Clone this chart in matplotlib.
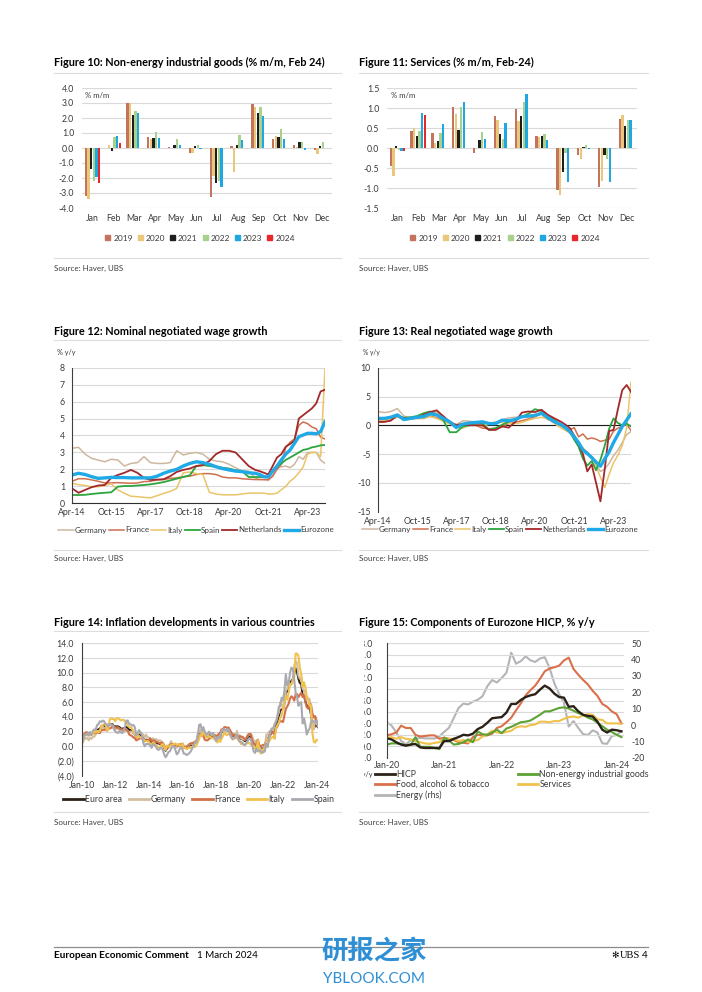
import numpy as np
import matplotlib
matplotlib.use("Agg")
import matplotlib.pyplot as plt
from matplotlib.lines import Line2D
from matplotlib.patches import Patch, Rectangle

plt.rcParams['font.family'] = ['Lato', 'DejaVu Sans']
plt.rcParams['axes.unicode_minus'] = False

# ---------------- DATA ----------------
months = ['Jan', 'Feb', 'Mar', 'Apr', 'May', 'Jun', 'Jul', 'Aug', 'Sep', 'Oct', 'Nov', 'Dec']
bar_years = ['2019', '2020', '2021', '2022', '2023', '2024']
nan = np.nan

# Figure 10: Non-energy industrial goods, % m/m
neig_2019 = [-3.23, 0.03, 2.98, 0.76, 0.05, -0.32, -3.29, 0.12, 2.96, 0.63, 0.19, -0.10]
neig_2020 = [-3.38, 0.19, 2.98, 0.58, 0.03, -0.36, -1.86, -1.57, 2.76, 0.78, 0.05, -0.39]
neig_2021 = [-1.41, -0.21, 2.19, 0.69, 0.21, 0.12, -2.35, 0.21, 2.35, 0.74, 0.39, 0.12]
neig_2022 = [-2.17, 0.71, 2.48, 1.07, 0.60, 0.19, -2.19, 0.85, 2.72, 1.24, 0.43, 0.41]
neig_2023 = [-1.90, 0.78, 2.35, 0.69, 0.21, -0.05, -2.63, 0.56, 2.13, 0.63, -0.14, 0.00]
neig_2024 = [-2.35, 0.36, nan, nan, nan, nan, nan, nan, nan, nan, nan, nan]

# Figure 11: Services, % m/m
svc_2019 = [-0.44, 0.43, 0.37, 1.02, -0.13, 0.80, 0.98, 0.29, -1.05, -0.18, -0.98, 0.73]
svc_2020 = [-0.71, 0.50, 0.12, 0.84, -0.01, 0.71, 0.68, 0.28, -1.18, -0.28, -0.82, 0.83]
svc_2021 = [0.04, 0.30, 0.17, 0.45, 0.19, 0.35, 0.79, 0.31, -0.60, 0.02, -0.18, 0.56]
svc_2022 = [-0.04, 0.42, 0.37, 1.03, 0.39, 0.23, 1.16, 0.34, -0.13, 0.08, -0.27, 0.70]
svc_2023 = [-0.08, 0.87, 0.61, 1.16, 0.23, 0.62, 1.35, 0.21, -0.85, -0.02, -0.85, 0.70]
svc_2024 = [-0.08, 0.82, nan, nan, nan, nan, nan, nan, nan, nan, nan, nan]

# Figures 12/13: negotiated wages, months since Apr-14
wage_months = [0, 3, 6, 9, 12, 15, 18, 21, 24, 27, 30, 33, 36, 39, 42, 45, 48, 51, 54, 57,
               60, 63, 66, 69, 72, 75, 78, 81, 84, 86, 88, 90, 92, 94, 96, 98, 100, 102,
               104, 106, 108, 110, 112, 114, 116]
wage_tick_pos = [0, 18, 36, 54, 72, 90, 108]
wage_tick_labels = ['Apr-14', 'Oct-15', 'Apr-17', 'Oct-18', 'Apr-20', 'Oct-21', 'Apr-23']
wage_names = ['Germany', 'France', 'Italy', 'Spain', 'Netherlands', 'Eurozone']

nom_de = [3.25, 3.3, 2.9, 2.65, 2.55, 2.45, 2.6, 2.55, 2.2, 2.35, 2.4, 2.75, 2.4, 2.35, 2.35,
          2.4, 3.1, 2.85, 2.95, 3.0, 2.9, 2.6, 2.5, 2.45, 2.3, 2.1, 1.9, 1.9, 1.5,
          1.4, 1.4, 1.35, 1.6, 2.1, 2.15, 2.2, 2.1, 2.3, 2.75, 2.6, 3.0, 3.0, 3.0, 2.55, 2.35]
nom_fr = [1.3, 1.45, 1.45, 1.38, 1.3, 1.2, 1.2, 1.22, 1.2, 1.18, 1.2, 1.28, 1.3, 1.38, 1.4,
          1.47, 1.5, 1.57, 1.6, 1.7, 1.75, 1.75, 1.7, 1.55, 1.5, 1.5, 1.45, 1.42, 1.4,
          1.4, 1.4, 1.4, 1.6, 2.0, 2.3, 3.3, 3.6, 3.8, 4.6, 4.8, 4.7, 4.5, 4.4, 3.9, 3.8]
nom_it = [1.18, 1.1, 1.05, 0.98, 0.98, 1.05, 1.15, 0.8, 0.59, 0.42, 0.39, 0.35, 0.32, 0.45, 0.58,
          0.7, 0.88, 1.8, 1.85, 1.75, 1.7, 0.65, 0.55, 0.5, 0.5, 0.5, 0.55, 0.6, 0.6,
          0.6, 0.6, 0.55, 0.55, 0.6, 0.8, 1.0, 1.3, 1.5, 1.8, 2.15, 2.9, 3.0, 3.0, 2.75, 7.95]
nom_es = [0.49, 0.49, 0.5, 0.55, 0.59, 0.62, 0.65, 0.98, 1.02, 1.02, 1.05, 1.08, 1.12, 1.18, 1.25,
          1.35, 1.45, 1.55, 1.65, 2.2, 2.25, 2.2, 2.15, 2.1, 2.05, 1.95, 1.9, 1.55, 1.55,
          1.55, 1.55, 1.55, 1.9, 2.16, 2.35, 2.56, 2.7, 2.85, 3.0, 3.15, 3.2, 3.3, 3.35, 3.42, 3.44]
nom_nl = [0.88, 0.62, 0.79, 0.95, 1.05, 1.08, 1.5, 1.67, 1.8, 1.97, 1.8, 1.5, 1.38, 1.4, 1.42,
          1.6, 1.85, 1.97, 2.05, 2.2, 2.25, 2.5, 2.9, 3.1, 3.1, 3.0, 2.6, 2.2, 1.97,
          1.9, 1.8, 1.7, 2.2, 2.7, 2.9, 3.34, 3.5, 3.7, 5.0, 5.2, 5.4, 5.6, 5.9, 6.6, 6.7]
nom_ez = [1.67, 1.77, 1.7, 1.57, 1.47, 1.5, 1.53, 1.52, 1.52, 1.5, 1.5, 1.5, 1.5, 1.6, 1.77,
          1.9, 2.0, 2.2, 2.35, 2.45, 2.4, 2.3, 2.16, 2.05, 1.97, 1.9, 1.87, 1.8, 1.77,
          1.7, 1.57, 1.55, 1.9, 2.2, 2.56, 2.9, 3.15, 3.54, 3.93, 4.03, 4.13, 4.13, 4.1, 4.23, 4.82]

real_de = [2.4, 2.2, 2.4, 2.9, 1.6, 1.3, 1.3, 1.7, 2.2, 2.3, 1.4, 0.6, 0.1, 0.8, 0.7,
           0.6, 0.6, 0.4, 0.5, 0.9, 1.3, 1.4, 1.5, 1.6, 1.9, 2.1, 1.2, 0.5, -0.2,
           -0.8, -1.3, -2.1, -3.2, -4.0, -4.6, -5.6, -6.9, -8.0, -7.6, -6.6, -5.3, -4.3, -3.0, -1.6, -1.1]
real_fr = [0.6, 0.6, 0.9, 1.5, 1.2, 1.2, 1.2, 1.2, 1.6, 1.3, 0.9, 0.4, 0.1, 0.3, 0.3,
           0.0, -0.5, -0.6, -0.5, -0.2, 0.3, 0.5, 0.8, 1.1, 1.5, 2.0, 1.0, 0.6, 0.2,
           -0.4, -0.8, -0.4, -2.0, -1.5, -2.4, -2.2, -2.4, -2.8, -2.6, -2.4, -1.0, -0.5, -0.2, 0.2, -0.9]
real_it = [0.8, 0.9, 1.0, 1.5, 0.9, 1.1, 1.2, 1.2, 1.5, 1.2, 0.7, 0.2, -0.1, -0.5, 0.0,
           0.1, -0.2, 0.2, 0.6, 0.5, 0.3, 0.3, 0.5, 0.9, 1.2, 1.4, 1.1, 0.3, -0.5,
           -0.9, -1.3, -2.2, -3.2, -4.0, -4.7, -5.4, -7.2, -9.0, -10.8, -8.5, -6.5, -5.2, -3.5, -0.5, 7.5]
real_es = [1.0, 1.2, 1.3, 1.6, 1.3, 1.4, 1.6, 2.1, 2.4, 1.8, 0.9, -1.2, -1.2, -0.2, 0.0,
           0.3, 0.3, -0.8, -0.5, 0.1, 0.6, 1.0, 1.5, 2.0, 2.8, 2.5, 1.6, 0.9, 0.0,
           -0.5, -1.1, -2.5, -3.7, -5.8, -7.0, -6.2, -7.8, -6.0, -3.5, -0.6, 1.2, 0.4, 0.0, 0.3, -0.2]
real_nl = [0.6, 0.6, 0.8, 1.8, 1.2, 1.2, 1.3, 1.8, 2.3, 2.6, 1.6, 0.6, 0.0, 0.2, 0.0,
           0.0, 0.0, -0.8, -0.8, -0.2, -0.4, 0.6, 2.2, 2.4, 2.3, 2.7, 1.8, 1.2, 0.6,
           0.1, -0.5, -1.8, -3.2, -5.0, -8.0, -6.8, -10.0, -13.2, -7.5, -1.0, -0.8, 2.8, 6.1, 7.0, 5.8]
real_ez = [1.2, 1.2, 1.4, 1.8, 1.0, 1.2, 1.4, 1.5, 2.0, 1.8, 1.2, 0.6, -0.4, 0.2, 0.4,
           0.5, 0.6, 0.3, 0.3, 0.9, 0.8, 1.0, 1.5, 1.6, 1.7, 2.1, 1.3, 0.6, 0.1,
           -0.4, -1.1, -2.0, -3.0, -4.3, -4.9, -5.6, -6.4, -7.1, -5.8, -4.6, -3.0, -1.6, -0.2, 0.9, 2.0]

# Figure 14: HICP inflation, % y/y, monthly Jan-10 .. Feb-24
infl_tick_labels = ['Jan-10', 'Jan-12', 'Jan-14', 'Jan-16', 'Jan-18', 'Jan-20', 'Jan-22', 'Jan-24']
infl_names = ['Euro area', 'Germany', 'France', 'Italy', 'Spain']
hicp_ea = [1.0, 0.9, 1.6, 1.6, 1.7, 1.5, 1.7, 1.6, 1.9, 1.9, 1.9, 2.2,
           2.3, 2.4, 2.7, 2.8, 2.7, 2.7, 2.6, 2.6, 3.0, 3.0, 3.0, 2.7,
           2.7, 2.7, 2.7, 2.6, 2.4, 2.4, 2.4, 2.6, 2.6, 2.5, 2.2, 2.2,
           2.0, 1.8, 1.7, 1.2, 1.4, 1.6, 1.6, 1.3, 1.1, 0.7, 0.9, 0.8,
           0.8, 0.7, 0.5, 0.7, 0.5, 0.5, 0.4, 0.4, 0.3, 0.4, 0.3, -0.2,
           -0.6, -0.3, -0.1, 0.0, 0.3, 0.2, 0.2, 0.1, -0.1, 0.1, 0.1, 0.2,
           0.3, -0.2, 0.0, -0.2, -0.1, 0.1, 0.2, 0.2, 0.4, 0.5, 0.6, 1.1,
           1.7, 2.0, 1.5, 1.9, 1.4, 1.3, 1.3, 1.5, 1.5, 1.4, 1.5, 1.3,
           1.3, 1.1, 1.4, 1.2, 2.0, 2.0, 2.2, 2.1, 2.1, 2.3, 1.9, 1.5,
           1.4, 1.5, 1.4, 1.7, 1.2, 1.3, 1.0, 1.0, 0.8, 0.7, 1.0, 1.3,
           1.4, 1.2, 0.7, 0.3, 0.1, 0.3, 0.4, -0.2, -0.3, -0.3, -0.3, -0.3,
           0.9, 0.9, 1.3, 1.6, 2.0, 1.9, 2.2, 3.0, 3.4, 4.1, 4.9, 5.0,
           5.1, 5.9, 7.4, 7.4, 8.1, 8.6, 8.9, 9.1, 9.9, 10.6, 10.1, 9.2,
           8.6, 8.5, 6.9, 7.0, 6.1, 5.5, 5.3, 5.2, 4.3, 2.9, 2.4, 2.9,
           2.8, 2.6]
hicp_de = [0.8, 0.5, 1.2, 1.0, 1.2, 0.8, 1.2, 1.0, 1.3, 1.3, 1.6, 1.9,
           2.0, 2.2, 2.3, 2.7, 2.4, 2.4, 2.6, 2.5, 2.9, 2.9, 2.8, 2.3,
           2.3, 2.5, 2.3, 2.2, 2.2, 2.0, 1.9, 2.2, 2.1, 2.1, 1.9, 2.0,
           1.9, 1.8, 1.8, 1.1, 1.6, 1.9, 1.9, 1.6, 1.6, 1.2, 1.6, 1.2,
           1.2, 1.0, 0.9, 1.1, 0.6, 1.0, 0.8, 0.8, 0.8, 0.7, 0.5, 0.1,
           -0.5, 0.0, 0.1, 0.3, 0.7, 0.1, 0.1, 0.1, -0.2, 0.2, 0.3, 0.2,
           0.4, -0.2, 0.1, -0.3, 0.0, 0.2, 0.4, 0.3, 0.5, 0.7, 0.7, 1.7,
           1.9, 2.2, 1.5, 2.0, 1.4, 1.5, 1.5, 1.8, 1.8, 1.5, 1.8, 1.6,
           1.4, 1.2, 1.5, 1.4, 2.2, 2.1, 2.1, 1.9, 2.2, 2.6, 2.2, 1.7,
           1.7, 1.7, 1.4, 2.1, 1.3, 1.5, 1.1, 1.0, 0.9, 0.9, 1.2, 1.5,
           1.6, 1.7, 1.3, 0.8, 0.5, 0.8, 0.0, -0.1, -0.4, -0.5, -0.7, -0.7,
           1.6, 1.6, 2.0, 2.1, 2.4, 2.1, 3.1, 3.4, 4.1, 4.6, 6.0, 5.7,
           5.1, 5.5, 7.6, 7.8, 8.7, 8.2, 8.5, 8.8, 10.9, 11.6, 11.3, 9.6,
           9.2, 9.3, 7.8, 7.6, 6.3, 6.8, 6.5, 6.4, 4.3, 3.0, 2.3, 3.8,
           3.1, 2.7]
hicp_fr = [1.2, 1.4, 1.7, 1.9, 1.9, 1.7, 1.9, 1.6, 1.8, 1.8, 1.8, 2.0,
           1.8, 1.8, 2.2, 2.2, 2.2, 2.3, 2.1, 2.4, 2.4, 2.5, 2.7, 2.7,
           2.6, 2.5, 2.6, 2.4, 2.3, 2.3, 2.2, 2.4, 2.2, 2.1, 1.6, 1.5,
           1.4, 1.2, 1.1, 0.8, 0.9, 1.0, 1.2, 1.0, 1.0, 0.7, 0.8, 0.8,
           0.8, 1.1, 0.7, 0.8, 0.8, 0.6, 0.6, 0.5, 0.4, 0.5, 0.4, 0.1,
           -0.4, -0.3, 0.0, 0.1, 0.3, 0.3, 0.2, 0.1, 0.1, 0.1, 0.1, 0.3,
           0.3, -0.1, -0.1, -0.1, 0.1, 0.3, 0.4, 0.4, 0.5, 0.5, 0.7, 0.8,
           1.6, 1.4, 1.4, 1.4, 0.9, 0.8, 0.8, 1.0, 1.1, 1.2, 1.2, 1.2,
           1.5, 1.3, 1.7, 1.8, 2.3, 2.3, 2.6, 2.6, 2.5, 2.5, 2.2, 1.9,
           1.4, 1.6, 1.3, 1.5, 1.1, 1.4, 1.3, 1.3, 1.1, 0.9, 1.2, 1.6,
           1.7, 1.6, 0.8, 0.4, 0.2, 0.2, 0.9, 0.2, 0.0, 0.1, 0.2, 0.0,
           0.8, 0.8, 1.4, 1.6, 1.8, 1.9, 1.5, 2.4, 2.7, 3.2, 3.4, 3.4,
           3.3, 4.2, 5.1, 5.4, 5.8, 6.5, 6.8, 6.6, 6.2, 7.1, 7.1, 6.7,
           7.0, 7.3, 6.7, 6.9, 6.0, 5.3, 5.1, 5.7, 5.7, 4.5, 3.9, 4.1,
           3.4, 3.1]
hicp_it = [1.3, 1.1, 1.4, 1.6, 1.6, 1.5, 1.8, 1.8, 1.6, 2.0, 1.9, 2.1,
           1.9, 2.1, 2.8, 2.9, 3.0, 3.0, 2.1, 2.3, 3.6, 3.8, 3.7, 3.7,
           3.4, 3.8, 3.8, 3.7, 3.5, 3.6, 3.6, 3.3, 3.4, 2.8, 2.6, 2.6,
           2.4, 2.0, 1.8, 1.3, 1.3, 1.4, 1.2, 1.2, 0.9, 0.8, 0.7, 0.7,
           0.6, 0.4, 0.3, 0.5, 0.4, 0.2, 0.0, -0.2, -0.1, 0.2, 0.3, -0.1,
           -0.5, 0.1, 0.0, -0.1, 0.2, 0.2, 0.3, 0.4, 0.2, 0.3, 0.1, 0.1,
           0.4, -0.2, -0.2, -0.4, -0.3, -0.2, -0.2, -0.1, 0.1, -0.1, 0.1, 0.5,
           1.0, 1.6, 1.4, 2.0, 1.6, 1.2, 1.2, 1.4, 1.3, 1.1, 1.1, 1.0,
           1.2, 0.5, 0.9, 0.6, 1.0, 1.4, 1.9, 1.6, 1.5, 1.7, 1.6, 1.2,
           0.9, 1.1, 1.1, 1.1, 0.9, 0.8, 0.3, 0.5, 0.2, 0.2, 0.4, 0.5,
           0.4, 0.2, 0.1, 0.1, -0.3, -0.4, 0.8, -0.5, -1.0, -0.6, -0.3, -0.3,
           0.7, 1.0, 0.6, 1.0, 1.2, 1.3, 1.0, 2.5, 2.9, 3.2, 3.9, 4.2,
           5.1, 6.2, 6.8, 6.3, 7.3, 8.5, 8.4, 9.1, 9.4, 12.6, 12.6, 12.3,
           10.7, 9.8, 8.1, 8.7, 8.0, 6.7, 6.3, 5.5, 5.6, 1.8, 0.6, 0.5,
           0.9, 0.8]
hicp_es = [1.1, 0.9, 1.5, 1.6, 1.8, 1.5, 1.9, 1.6, 2.1, 2.3, 2.2, 2.9,
           3.0, 3.4, 3.3, 3.5, 3.4, 3.0, 3.0, 2.7, 3.0, 3.0, 2.9, 2.4,
           2.0, 1.9, 1.8, 2.0, 1.9, 1.8, 2.2, 2.7, 3.5, 3.5, 3.0, 3.0,
           2.8, 2.9, 2.6, 1.5, 1.8, 2.2, 1.9, 1.6, 0.5, 0.0, 0.3, 0.3,
           0.3, 0.1, -0.2, 0.3, 0.2, 0.0, -0.4, -0.5, -0.3, -0.2, -0.5, -1.1,
           -1.5, -1.2, -0.8, -0.7, -0.3, 0.0, 0.0, -0.5, -1.1, -0.9, -0.4, -0.1,
           -0.4, -1.0, -1.0, -1.2, -1.1, -0.9, -0.7, -0.3, 0.0, 0.5, 0.5, 1.4,
           2.9, 3.0, 2.1, 2.6, 2.0, 1.6, 1.7, 2.0, 1.8, 1.7, 1.8, 1.2,
           0.7, 1.2, 1.3, 1.1, 2.1, 2.3, 2.3, 2.2, 2.3, 2.3, 1.7, 1.2,
           1.0, 1.1, 1.3, 1.6, 0.9, 0.6, 0.6, 0.4, 0.2, 0.2, 0.5, 0.8,
           1.1, 0.9, 0.1, -0.7, -0.9, -0.3, -0.7, -0.6, -0.6, -0.9, -0.8, -0.6,
           0.4, -0.1, 1.2, 2.0, 2.4, 2.5, 2.9, 3.3, 4.0, 5.4, 5.5, 6.6,
           6.2, 7.6, 9.8, 8.3, 8.5, 10.0, 10.7, 10.5, 9.0, 7.3, 6.7, 5.5,
           5.9, 6.0, 3.1, 3.8, 2.9, 1.6, 2.1, 2.4, 3.3, 3.5, 3.3, 3.3,
           3.5, 2.9]

# Figure 15: Eurozone HICP components, % y/y, monthly Jan-20 .. Feb-24
comp_tick_labels = ['Jan-20', 'Jan-21', 'Jan-22', 'Jan-23', 'Jan-24']
comp_hicp = hicp_ea[120:]
comp_neig = [0.3, 0.5, 0.5, 0.4, 0.2, 0.2, 1.6, -0.1, -0.1, -0.1, -0.3, -0.5,
             1.5, 1.0, 0.3, 0.4, 0.7, 1.2, 0.7, 2.6, 2.1, 2.0, 2.4, 2.9,
             2.3, 3.1, 3.4, 3.8, 4.2, 4.3, 4.5, 5.0, 5.5, 6.1, 6.1, 6.4,
             6.7, 6.8, 6.6, 6.2, 5.8, 5.5, 5.0, 4.7, 4.1, 3.5, 2.9, 2.5,
             2.0, 1.6]
comp_food = [1.9, 2.1, 2.4, 3.6, 3.2, 3.2, 2.0, 1.7, 1.8, 1.9, 1.9, 1.3,
             1.5, 1.3, 1.1, 0.7, 0.6, 0.5, 1.6, 2.0, 1.9, 1.9, 2.2, 3.2,
             3.5, 4.2, 5.0, 6.3, 7.5, 8.9, 9.8, 10.6, 11.8, 13.1, 13.6, 13.8,
             14.1, 15.0, 15.5, 13.5, 12.5, 11.6, 10.8, 9.7, 8.8, 7.4, 6.9, 6.1,
             5.6, 4.0]
comp_serv = [1.5, 1.6, 1.3, 1.6, 1.3, 1.2, 0.9, 0.7, 0.5, 0.4, 0.6, 0.7,
             1.4, 1.3, 1.3, 0.9, 1.1, 0.7, 0.9, 1.1, 1.7, 2.1, 2.7, 2.4,
             2.3, 2.5, 2.7, 3.3, 3.5, 3.4, 3.7, 3.8, 4.3, 4.3, 4.2, 4.4,
             4.4, 4.8, 5.1, 5.2, 5.0, 5.4, 5.6, 5.5, 4.7, 4.6, 4.0, 4.0,
             4.0, 3.9]
comp_energy = [1.9, -0.3, -4.5, -9.7, -11.9, -9.3, -8.4, -7.8, -8.2, -8.2, -8.3, -6.9,
               -4.2, -1.7, 4.3, 10.4, 13.1, 12.6, 14.3, 15.4, 17.6, 23.7, 27.5, 26.0,
               28.8, 32.0, 44.3, 37.5, 39.1, 42.0, 39.6, 38.6, 40.7, 41.5, 34.9, 25.5,
               18.9, 13.7, -0.9, 2.4, -1.8, -5.6, -6.1, -3.3, -4.6, -11.2, -11.5, -6.7,
               -6.1, -3.7]

# ---------------- STYLE ----------------
bar_colors = ['#C4735D', '#EBC77B', '#1E1E1E', '#A9D18E', '#1EA7E1', '#E8262B']
wage_colors = ['#CDB89F', '#CF6F4E', '#EBC46A', '#2CA53E', '#A3282A', '#1FA9E6']
wage_lw = [1.1, 1.1, 1.1, 1.3, 1.3, 2.4]
infl_colors = ['#2B2118', '#D3BF9F', '#D2704A', '#F1C14E', '#A9A9B1']
TICK = 6.3
TC = '#3A3A3A'
GRID = '#D9D9D9'

W, H = 702, 992
fig = plt.figure(figsize=(W / 100, H / 100), dpi=100)
fig.patch.set_facecolor('white')


def add_ax(x0, y0, x1, y1):
    return fig.add_axes([x0 / W, 1 - y1 / H, (x1 - x0) / W, (y1 - y0) / H])


def ftext(x, y, s, **kw):
    kw.setdefault('va', 'center')
    return fig.text(x / W, 1 - y / H, s, **kw)


def fline(x0, x1, y, color='#DCDCDC', lw=0.8):
    fig.add_artist(Line2D([x0 / W, x1 / W], [1 - y / H, 1 - y / H], color=color, lw=lw,
                          transform=fig.transFigure))


def base_style(ax):
    for s in ax.spines.values():
        s.set_visible(False)
    ax.tick_params(length=0, labelsize=TICK, colors=TC)
    ax.set_axisbelow(True)


def row_legend(handles, labels, cx, cy, fs=6.0, hl=2.2, htp=0.2, cs=0.6, **kw):
    fig.legend(handles, labels, loc='center', bbox_to_anchor=(cx / W, 1 - cy / H),
               ncol=len(handles), frameon=False, fontsize=fs, handlelength=hl,
               handletextpad=htp, columnspacing=cs, borderaxespad=0, borderpad=0,
               labelcolor=TC, **kw)


# ---------------- TITLES / FRAMES ----------------
renderer = fig.canvas.get_renderer()
t10 = ftext(54, 62, 'Figure 10: Non-energy industrial goods (% m/m, Feb 24)',
            fontsize=8, fontweight='bold', color='black')
w = t10.get_window_extent(renderer).width
TS = 8 * 274 / w
t10.set_fontsize(TS)
ftext(359, 62, 'Figure 11: Services (% m/m, Feb-24)', fontsize=TS, fontweight='bold', color='black')
ftext(54, 331, 'Figure 12: Nominal negotiated wage growth', fontsize=TS, fontweight='bold', color='black')
ftext(359, 331, 'Figure 13: Real negotiated wage growth', fontsize=TS, fontweight='bold', color='black')
ftext(54, 622, 'Figure 14: Inflation developments in various countries', fontsize=TS,
      fontweight='bold', color='black')
ftext(359, 622, 'Figure 15: Components of Eurozone HICP, % y/y', fontsize=TS, fontweight='bold',
      color='black')

for (ytop, ybot, ysrc) in [(72.5, 257.5, 268.5), (339.5, 549.5, 558.5), (630.5, 811.5, 822)]:
    for (xa, xb) in [(54, 341), (359, 648)]:
        fline(xa, xb, ytop)
        fline(xa, xb, ybot)
        ftext(xa, ysrc, 'Source: Haver, UBS', fontsize=5.8, color='#404040')

# ---------------- FIG 10 / 11 : bars ----------------
def bar_chart(ax, series, lo, hi, step):
    x = np.arange(len(months))
    pitch, bw = 0.128, 0.105
    for i, (vals, col) in enumerate(zip(series, bar_colors)):
        ax.bar(x + (i - 2.5) * pitch, vals, width=bw, color=col, zorder=3, linewidth=0)
    ax.set_xlim(-0.5, 11.5)
    ax.set_ylim(lo, hi)
    ticks = np.arange(lo, hi + 1e-9, step)
    ax.set_yticks(ticks)
    ax.set_yticklabels([f'{t:.1f}' for t in ticks])
    ax.set_xticks(x)
    ax.set_xticklabels(months)
    ax.grid(axis='y', color=GRID, lw=0.8)
    ax.grid(axis='x', visible=False)
    base_style(ax)
    ax.tick_params(axis='y', pad=5.5)
    ax.tick_params(axis='x', pad=4.5)


ax10 = add_ax(82, 88, 332, 208)
bar_chart(ax10, [neig_2019, neig_2020, neig_2021, neig_2022, neig_2023, neig_2024], -4, 4, 1)
ftext(85, 95.5, '% m/m', fontsize=5.6, color=TC)

ax11 = add_ax(387, 88, 637, 208)
bar_chart(ax11, [svc_2019, svc_2020, svc_2021, svc_2022, svc_2023, svc_2024], -1.5, 1.5, 0.5)
ftext(391, 95.5, '% m/m', fontsize=5.6, color=TC)

bar_handles = [Patch(color=c) for c in bar_colors]
row_legend(bar_handles, bar_years, 200, 238, fs=6.0, hl=0.6, htp=0.35, cs=0.6, handleheight=0.6)
row_legend(bar_handles, bar_years, 505, 238, fs=6.0, hl=0.6, htp=0.35, cs=0.6, handleheight=0.6)

# ---------------- FIG 12 / 13 : wages ----------------
def wage_chart(ax, series, lo, hi, step):
    for vals, col, lw in zip(series, wage_colors, wage_lw):
        ax.plot(wage_months, vals, color=col, lw=lw, solid_joinstyle='round')
    ax.set_xlim(0, 116)
    ax.set_ylim(lo, hi)
    ax.set_yticks(np.arange(lo, hi + 1e-9, step))
    ax.set_xticks(wage_tick_pos)
    ax.set_xticklabels(wage_tick_labels)
    ax.grid(axis='y', color=GRID, lw=0.8)
    base_style(ax)
    ax.spines['left'].set_visible(True)
    ax.spines['left'].set_color('#404040')
    ax.spines['left'].set_linewidth(0.8)
    ax.tick_params(axis='y', pad=5)
    ax.tick_params(axis='x', pad=3.5)


ax12 = add_ax(72, 367.7, 325, 503.3)
wage_chart(ax12, [nom_de, nom_fr, nom_it, nom_es, nom_nl, nom_ez], 0, 8, 1)
ax12.spines['bottom'].set_visible(True)
ax12.spines['bottom'].set_color('#303030')
ax12.spines['bottom'].set_linewidth(0.8)
ftext(57, 353, '% y/y', fontsize=5.2, color=TC)

ax13 = add_ax(377.7, 367.7, 631, 511.7)
wage_chart(ax13, [real_de, real_fr, real_it, real_es, real_nl, real_ez], -15, 10, 5)
ax13.axhline(0, color='#1A1A1A', lw=0.8, zorder=1.5)
ftext(363, 353, '% y/y', fontsize=4.8, color=TC)

wage_handles = [Line2D([], [], color=c, lw=lw) for c, lw in zip(wage_colors, wage_lw)]
row_legend(wage_handles, wage_names, 196, 530, fs=5.8, hl=1.9, htp=0.1, cs=0.25)
row_legend(wage_handles, wage_names, 500, 529.5, fs=5.8, hl=1.9, htp=0.1, cs=0.25)

# ---------------- FIG 14 : inflation ----------------
ax14 = add_ax(81.7, 643.3, 318, 775.7)
infl_x = np.arange(len(hicp_ea))
for vals, col in zip([hicp_ea, hicp_de, hicp_fr, hicp_it, hicp_es], infl_colors):
    ax14.plot(infl_x, vals, color=col, lw=1.5, solid_joinstyle='round')
ax14.set_xlim(0, len(hicp_ea) - 1)
ax14.set_ylim(-4, 14)
yt = np.arange(-4, 14.1, 2)
ax14.set_yticks(yt)
ax14.set_yticklabels([f'({abs(v):.1f})' if v < 0 else f'{v:.1f}' for v in yt])
ax14.set_xticks(np.arange(0, 169, 24))
ax14.set_xticklabels(infl_tick_labels)
ax14.grid(axis='y', color=GRID, lw=0.8)
base_style(ax14)
ax14.spines['left'].set_visible(True)
ax14.spines['left'].set_color('#404040')
ax14.spines['left'].set_linewidth(0.8)
ax14.tick_params(axis='y', pad=5.5)
ax14.tick_params(axis='x', pad=4)
infl_handles = [Line2D([], [], color=c, lw=2.0) for c in infl_colors]
row_legend(infl_handles, infl_names, 199, 800, fs=6.3, hl=2.3, htp=0.15, cs=0.8)

# ---------------- FIG 15 : HICP components ----------------
ax15 = add_ax(386.7, 643.3, 624.3, 757.7)
ax15r = ax15.twinx()
comp_x = np.arange(len(comp_neig))
ax15r.plot(comp_x, comp_energy, color='#B4B4B8', lw=1.5)
ax15.plot(comp_x, comp_food, color='#D9704A', lw=1.5)
ax15.plot(comp_x, comp_serv, color='#F0C24C', lw=1.5)
ax15.plot(comp_x, comp_neig, color='#5DA234', lw=1.5)
ax15.plot(comp_x, comp_hicp, color='#2B2118', lw=1.7)
ax15.set_zorder(ax15r.get_zorder() + 1)
ax15.patch.set_visible(False)
ax15.set_xlim(0, 49.6)
ax15.set_ylim(-2, 18)
yl = np.arange(-2, 18.1, 2)
ax15.set_yticks(yl)
ax15.set_yticklabels([f'{v:.1f}' for v in yl])
ax15r.set_ylim(-20, 50)
yr = np.arange(-20, 51, 10)
ax15r.set_yticks(yr)
ax15r.set_yticklabels([f'{v:d}' for v in yr])
ax15.set_xticks([0, 12, 24, 36, 48])
ax15.set_xticklabels(comp_tick_labels)
ax15.grid(axis='y', color=GRID, lw=0.8)
base_style(ax15)
base_style(ax15r)
ax15.spines['left'].set_visible(True)
ax15.spines['left'].set_color('#404040')
ax15.spines['left'].set_linewidth(0.8)
ax15.tick_params(axis='y', pad=10.5)
ax15.tick_params(axis='x', pad=2.5)
ax15r.tick_params(axis='y', pad=5)
ftext(373, 775, '% y/y', fontsize=5.2, color=TC, ha='right')
# the left labels of this panel are cut off in the source layout
fig.add_artist(Rectangle((349 / W, 1 - 790 / H), (363.5 - 349) / W, (790 - 636) / H,
                         transform=fig.transFigure, facecolor='white', edgecolor='none', zorder=20))

c1 = [Line2D([], [], color='#2B2118', lw=2), Line2D([], [], color='#D9704A', lw=2),
      Line2D([], [], color='#B4B4B8', lw=2)]
c2 = [Line2D([], [], color='#5DA234', lw=2), Line2D([], [], color='#F0C24C', lw=2)]
fig.legend(c1, ['HICP', 'Food, alcohol & tobacco', 'Energy (rhs)'], loc='upper left',
           bbox_to_anchor=(375 / W, 1 - 770 / H), frameon=False, fontsize=6.3, handlelength=2.3,
           handletextpad=0.15, labelspacing=0.12, borderaxespad=0, borderpad=0, labelcolor=TC)
fig.legend(c2, ['Non-energy industrial goods', 'Services'], loc='upper left',
           bbox_to_anchor=(518 / W, 1 - 770 / H), frameon=False, fontsize=6.3, handlelength=2.3,
           handletextpad=0.15, labelspacing=0.12, borderaxespad=0, borderpad=0, labelcolor=TC)

# ---------------- FOOTER ----------------
fline(54, 648, 946.5, color='#8C8C8C', lw=0.9)
ftext(54, 956, 'European Economic Comment', fontsize=7.2, fontweight='bold', color='black')
ftext(197, 956, '1 March 2024', fontsize=7.0, color='black')
ftext(620, 956, 'UBS', fontsize=7.5, color='black', family=['Liberation Serif', 'DejaVu Serif'])
ftext(648, 956, '4', fontsize=7.2, color='black', ha='right')
ftext(615, 956, '\u273b', fontsize=6.5, color='black', ha='center', family=['DejaVu Sans'])
ftext(374, 952, '研报之家', fontsize=19, color='#2F8FD5', ha='center', fontweight='bold',
      family=['Noto Sans CJK SC', 'DejaVu Sans'])
ftext(374, 979, 'YBLOOK.COM', fontsize=11, color='#2F8FD5', ha='center')

fig.savefig('out.png', dpi=100, facecolor='white')
